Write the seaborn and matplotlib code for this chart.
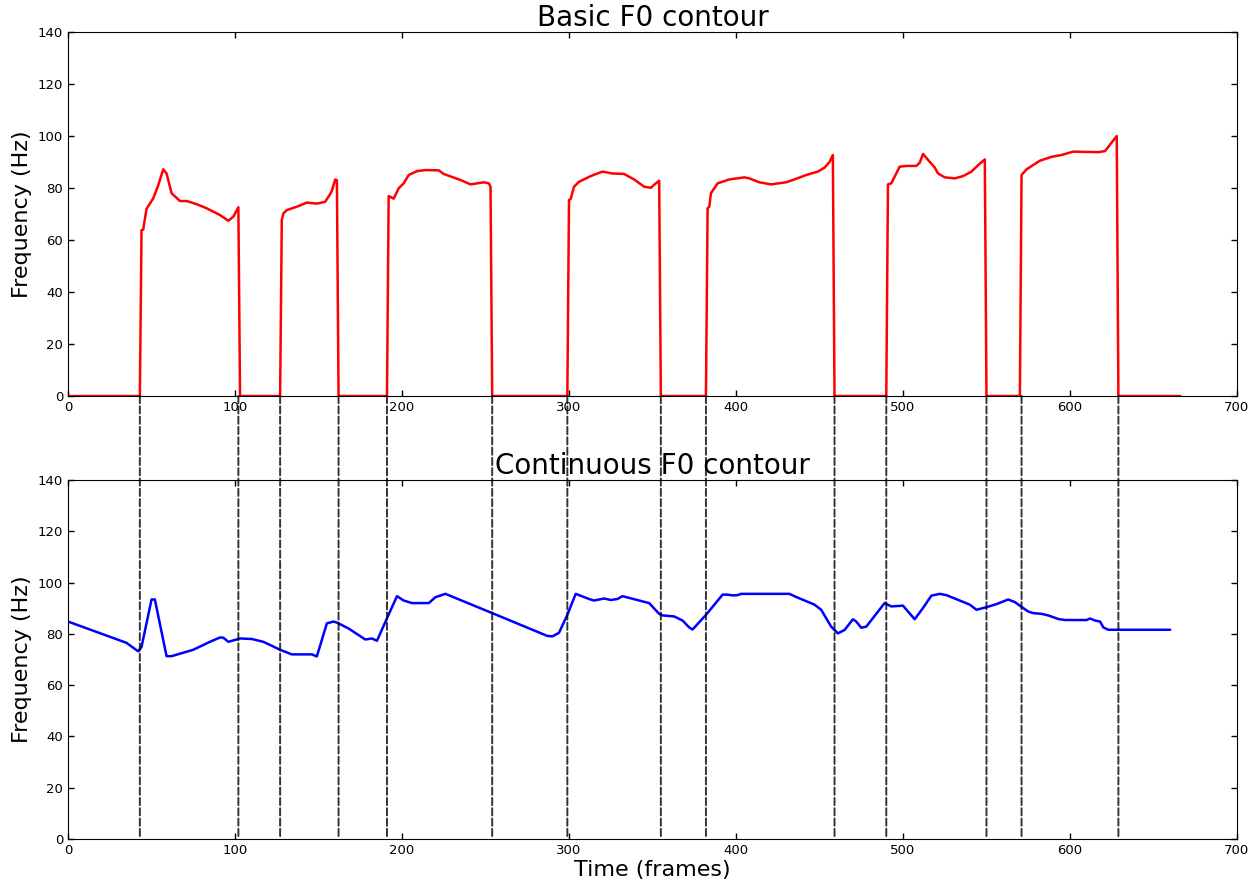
import matplotlib
matplotlib.use("Agg")
import matplotlib.pyplot as plt
from matplotlib.patches import ConnectionPatch
import seaborn as sns
import pandas as pd

# ---- data ----
basic_frames = [0, 43, 44, 45, 47, 51, 54, 57, 59, 62, 67, 71, 77, 83, 91, 96, 99, 102, 103,
                127, 128, 129, 131, 137, 143, 149, 154, 157, 158, 160, 161, 162,
                191, 192, 193, 195, 198, 201, 204, 209, 214, 222, 225, 235, 241, 249, 252, 253, 254,
                299, 300, 301, 303, 306, 313, 320, 326, 333, 339, 345, 349, 352, 354, 355,
                382, 383, 384, 385, 389, 396, 405, 408, 414, 421, 430, 435, 442, 449, 453, 456, 458, 459,
                490, 491, 493, 498, 502, 508, 510, 512, 515, 519, 521, 525, 531, 536, 541, 545, 549, 550,
                570, 571, 574, 582, 589, 595, 602, 608, 617, 621, 628, 629, 666]
basic_f0 = [0, 0, 63.8, 64.0, 72.0, 76.0, 81.0, 87.2, 85.6, 78.0, 75.0, 75.0, 73.8, 72.2, 69.6, 67.4, 69.0, 72.6, 0,
            0, 67.7, 70.3, 71.5, 72.8, 74.4, 74.0, 74.7, 77.7, 79.0, 83.3, 83.0, 0,
            0, 76.9, 76.6, 75.9, 79.9, 81.8, 85.0, 86.5, 86.9, 86.8, 85.4, 83.1, 81.4, 82.2, 81.8, 80.5, 0,
            0, 75.4, 75.8, 80.5, 82.4, 84.6, 86.3, 85.6, 85.4, 83.3, 80.5, 80.1, 81.8, 82.8, 0,
            0, 72.2, 72.8, 78.0, 81.8, 83.3, 84.1, 83.7, 82.2, 81.4, 82.2, 83.3, 85.0, 86.3, 87.8, 90.0, 92.7, 0,
            0, 81.4, 81.8, 88.2, 88.5, 88.5, 89.7, 93.1, 90.8, 87.9, 85.6, 84.1, 83.7, 84.6, 86.3, 88.8, 91.0, 0,
            0, 85.0, 87.2, 90.5, 92.0, 92.7, 94.0, 93.9, 93.8, 94.2, 100.0, 0, 0]

cont_frames = [0, 35, 42, 44, 50, 52, 59, 62, 75, 85, 91, 93, 96, 103, 110, 117, 127, 134, 146, 149,
               155, 159, 161, 168, 178, 182, 185, 191, 197, 201, 206, 216, 220, 226, 254, 287, 290, 294,
               299, 304, 312, 315, 321, 325, 329, 332, 348, 354, 356, 363, 368, 372, 374, 382, 392, 395,
               398, 401, 403, 432, 436, 447, 451, 457, 461, 465, 470, 472, 475, 478, 489, 493, 500, 507,
               512, 517, 522, 526, 534, 540, 544, 550, 556, 563, 567, 570, 575, 578, 583, 587, 593, 597,
               610, 612, 615, 618, 620, 623, 660]
cont_f0 = [84.8, 76.5, 73.2, 74.9, 93.4, 93.4, 71.3, 71.3, 73.8, 76.9, 78.6, 78.5, 76.9, 78.2, 78.0, 76.9, 73.8, 72.0, 72.0, 71.2,
           84.1, 84.8, 84.4, 82.1, 77.8, 78.2, 77.3, 86.1, 94.7, 93.0, 92.0, 92.0, 94.3, 95.6, 88.1, 79.2, 79.0, 80.4,
           87.4, 95.6, 93.6, 93.0, 93.8, 93.2, 93.6, 94.7, 92.0, 87.8, 87.2, 86.8, 85.2, 82.5, 81.7, 87.4, 95.3, 95.3,
           95.0, 95.1, 95.6, 95.6, 94.4, 91.4, 89.4, 82.8, 80.2, 81.5, 85.7, 84.8, 82.4, 82.8, 92.0, 90.7, 91.0, 85.7,
           90.1, 94.9, 95.6, 95.1, 93.0, 91.4, 89.4, 90.4, 91.6, 93.4, 92.4, 91.0, 88.7, 88.1, 87.8, 87.2, 85.8, 85.4,
           85.4, 86.0, 85.2, 84.8, 82.5, 81.6, 81.6]

boundaries = [43, 102, 127, 162, 191, 254, 299, 355, 382, 459, 490, 550, 571, 629]

xticks = [0, 100, 200, 300, 400, 500, 600, 700]
yticks = [0, 20, 40, 60, 80, 100, 120, 140]

# ---- style ----
sns.set_style("white", rc={
    "xtick.direction": "in", "ytick.direction": "in",
    "xtick.top": True, "ytick.right": True,
    "xtick.bottom": True, "ytick.left": True,
    "axes.edgecolor": "black", "axes.linewidth": 1.0,
    "text.color": "black", "axes.labelcolor": "black",
    "xtick.color": "black", "ytick.color": "black",
})
plt.rcParams["font.family"] = ["DejaVu Sans"]
plt.rcParams["xtick.major.size"] = 4
plt.rcParams["ytick.major.size"] = 4

fig = plt.figure(figsize=(12.53, 8.84), dpi=100)
ax1 = fig.add_axes([0.0543, 0.552, 0.9329, 0.4118])
ax2 = fig.add_axes([0.0543, 0.0509, 0.9329, 0.4061])

df_b = pd.DataFrame({"t": basic_frames, "f0": basic_f0})
df_c = pd.DataFrame({"t": cont_frames, "f0": cont_f0})

sns.lineplot(data=df_b, x="t", y="f0", ax=ax1, color="#ff0000", lw=1.8, estimator=None, sort=False)
sns.lineplot(data=df_c, x="t", y="f0", ax=ax2, color="#0000ff", lw=1.8, estimator=None, sort=False)

for ax, title in [(ax1, "Basic F0 contour"), (ax2, "Continuous F0 contour")]:
    ax.set_xlim(0, 700)
    ax.set_ylim(0, 140)
    ax.set_xticks(xticks)
    ax.set_yticks(yticks)
    ax.tick_params(labelsize=9.5, length=4, width=1, colors="black")
    ax.set_title(title, fontsize=20, pad=1, color="black")
    ax.set_ylabel("Frequency (Hz)", fontsize=16, color="black")
    ax.set_xlabel("")
    for s in ax.spines.values():
        s.set_visible(True)
        s.set_color("black")

ax2.set_xlabel("Time (frames)", fontsize=16, labelpad=2, color="black")

for b in boundaries:
    con = ConnectionPatch(xyA=(b, 0), coordsA=ax1.transData,
                          xyB=(b, 0), coordsB=ax2.transData,
                          linestyle="--", color="black", lw=1.4, alpha=0.8, zorder=3)
    fig.add_artist(con)

fig.savefig("out.png", dpi=100)
